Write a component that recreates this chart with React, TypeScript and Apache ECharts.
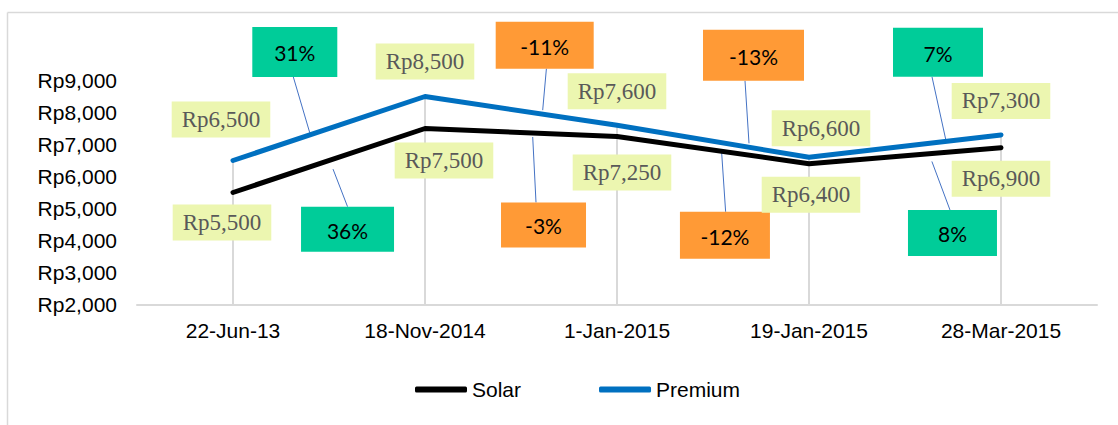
import React, { useEffect, useRef } from "react";
import * as echarts from "echarts";

const categories = ["22-Jun-13", "18-Nov-2014", "1-Jan-2015", "19-Jan-2015", "28-Mar-2015"];
const solar = [5500, 7500, 7250, 6400, 6900];
const premium = [6500, 8500, 7600, 6600, 7300];
const solarChange = [36, -3, -12, 8];
const premiumChange = [31, -11, -13, 7];
const yMin = 2000;
const yMax = 9000;
const yInterval = 1000;

// layout of the value labels (pixel offsets from the point)
const premiumLabelOffsets = [[-12, -41], [0, -35], [0, -34], [12, -29], [0, -34]];
const solarLabelOffsets = [[-11, 30], [19, 32], [5, 36], [2, 31], [0, 31]];

// layout of the change callouts: t along segment, box offset, box size, leader tweaks
const premiumCallouts = [
  { t: 0.4, dx: -15, dy: -83, w: 85, h: 50, ldx: -1.5, endDy: -2 },
  { t: 0.613, dx: 2, dy: -69, w: 98, h: 47, ldx: 1.7, endDy: -4 },
  { t: 0.6875, dx: 4.5, dy: -92, w: 101, h: 51, ldx: -8.5, endDy: -4 },
  { t: 0.712, dx: -7.7, dy: -89, w: 90, h: 49, ldx: -6, endDy: -2 },
];
const solarCallouts = [
  { t: 0.521, dx: 14.5, dy: 70, w: 93, h: 45, ldx: 0, endDy: 10 },
  { t: 0.561, dx: 10.8, dy: 92, w: 85, h: 45, ldx: -7.5, endDy: 4 },
  { t: 0.545, dx: 3.3, dy: 84, w: 90, h: 47, ldx: 0.7, endDy: 1 },
  { t: 0.64, dx: 20.6, dy: 79.5, w: 89, h: 46, ldx: -2.5, endDy: 8 },
];

const GREEN = "#00CC99";
const ORANGE = "#FF9A36";

function fmtRp(v: number) {
  return "Rp" + v.toLocaleString("en-US");
}

function calloutSeries(name: string, values: number[], changes: number[], layout: any[], above: boolean) {
  return {
    type: "custom",
    name,
    silent: true,
    clip: false,
    z: 1,
    encode: { x: 0, y: 1 },
    data: changes.map((c, i) => [i, values[i], c]),
    renderItem: (params: any, api: any) => {
      const i = params.dataIndex;
      const L = layout[i];
      const p0 = api.coord([i, values[i]]);
      const p1 = api.coord([i + 1, values[i + 1]]);
      const ax = p0[0] + (p1[0] - p0[0]) * L.t;
      const ay = p0[1] + (p1[1] - p0[1]) * L.t;
      const cx = ax + L.dx;
      const cy = ay + L.dy;
      const c = changes[i];
      const fill = c >= 0 ? GREEN : ORANGE;
      const edgeY = above ? cy + L.h / 2 : cy - L.h / 2;
      return {
        type: "group",
        children: [
          {
            type: "line",
            shape: { x1: cx + L.ldx, y1: edgeY, x2: ax, y2: ay + L.endDy },
            style: { stroke: "#4472C4", lineWidth: 1 },
          },
          {
            type: "rect",
            shape: { x: cx - L.w / 2, y: cy - L.h / 2, width: L.w, height: L.h },
            style: { fill },
          },
          {
            type: "text",
            style: {
              text: c + "%",
              x: cx,
              y: cy + 1,
              align: "center",
              verticalAlign: "middle",
              fontFamily: "Lato",
              fontSize: 21,
              fill: "#000",
            },
          },
        ],
      };
    },
  };
}

export default function App() {
  const ref = useRef<HTMLDivElement>(null);
  useEffect(() => {
    document.body.style.margin = "0";
    document.body.style.overflow = "hidden";
    const chart = echarts.init(ref.current!, null, { renderer: "svg" });
    const labelStyle = {
      show: true,
      position: "inside",
      fontFamily: "Liberation Serif",
      fontSize: 23,
      color: "#595959",
      backgroundColor: "#ECF6B0",
      padding: [7, 10, 6, 10],
      formatter: (p: any) => fmtRp(p.value),
    };
    const option: any = {
      animation: false,
      backgroundColor: "#fff",
      grid: { left: 137, right: 21, top: 80.5, bottom: 120.5 },
      graphic: [
        { type: "line", shape: { x1: 7.5, y1: 12.5, x2: 1118, y2: 12.5 }, style: { stroke: "#d9d9d9", lineWidth: 1.5 } },
        { type: "line", shape: { x1: 7.5, y1: 12.5, x2: 7.5, y2: 425 }, style: { stroke: "#d9d9d9", lineWidth: 1.5 } },
      ],
      legend: {
        data: ["Solar", "Premium"],
        left: 410,
        top: 374,
        icon: "roundRect",
        itemWidth: 52,
        itemHeight: 6,
        itemGap: 78,
        textStyle: { fontFamily: "Liberation Sans", fontSize: 21, color: "#000", padding: 0 },
      },
      xAxis: {
        type: "category",
        data: categories,
        boundaryGap: true,
        axisLine: { show: true, lineStyle: { color: "#d9d9d9", width: 2 } },
        axisTick: { show: false },
        splitLine: { show: false },
        axisLabel: { fontFamily: "Liberation Sans", fontSize: 21, color: "#000", margin: 15 },
      },
      yAxis: {
        type: "value",
        min: yMin,
        max: yMax,
        interval: yInterval,
        axisLine: { show: false },
        axisTick: { show: false },
        splitLine: { show: false },
        axisLabel: { fontFamily: "Liberation Sans", fontSize: 21, color: "#000", margin: 20, formatter: (v: number) => fmtRp(v) },
      },
      series: [
        {
          type: "bar",
          name: "drop",
          silent: true,
          barWidth: 2,
          z: 0,
          itemStyle: { color: "#d9d9d9" },
          data: premium.map((v, i) => Math.max(v, solar[i])),
        },
        calloutSeries("premiumChange", premium, premiumChange, premiumCallouts, true),
        calloutSeries("solarChange", solar, solarChange, solarCallouts, false),
        {
          type: "line",
          name: "Solar",
          z: 3,
          symbol: "circle",
          symbolSize: 2,
          showSymbol: true,
          itemStyle: { color: "#000" },
          lineStyle: { color: "#000", width: 5, cap: "round", join: "round" },
          label: labelStyle,
          data: solar.map((v, i) => ({ value: v, label: { offset: solarLabelOffsets[i] } })),
        },
        {
          type: "line",
          name: "Premium",
          z: 3,
          symbol: "circle",
          symbolSize: 2,
          showSymbol: true,
          itemStyle: { color: "#0070C0" },
          lineStyle: { color: "#0070C0", width: 5, cap: "round", join: "round" },
          label: labelStyle,
          data: premium.map((v, i) => ({ value: v, label: { offset: premiumLabelOffsets[i] } })),
        },
      ],
    };
    chart.setOption(option);
    return () => chart.dispose();
  }, []);
  return <div ref={ref} style={{ width: 1118, height: 425 }} />;
}
